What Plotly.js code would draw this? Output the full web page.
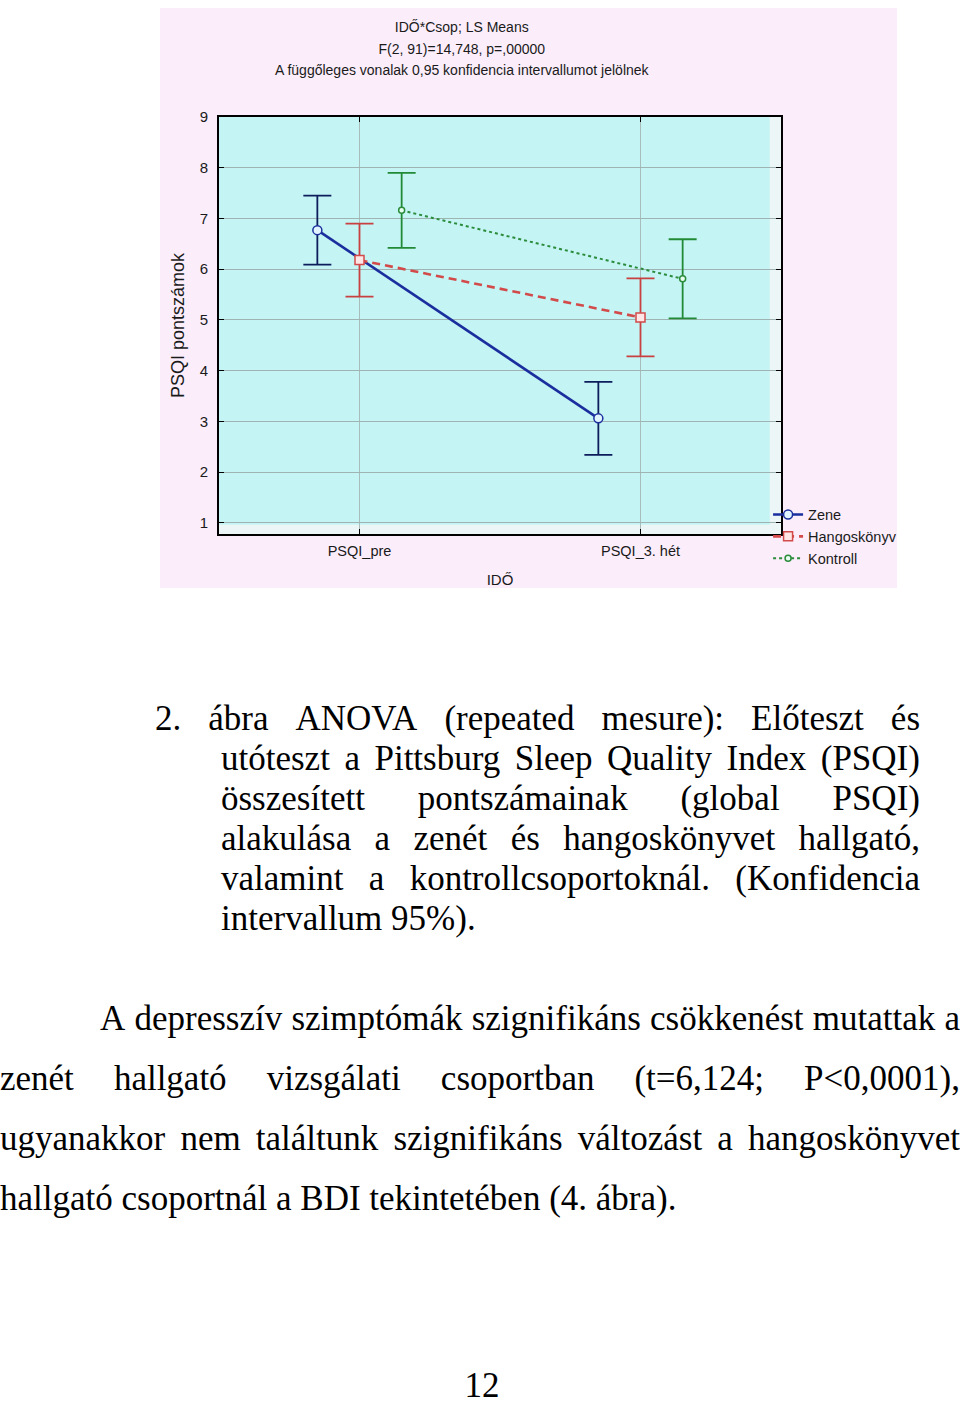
<!DOCTYPE html>
<html>
<head>
<meta charset="utf-8">
<script src="https://cdn.plot.ly/plotly-3.0.1.min.js"></script>
<style>
  html, body { margin: 0; padding: 0; background: #ffffff; }
  body { width: 960px; height: 1407px; position: relative; overflow: hidden; }
  #chart { position: absolute; left: 160px; top: 8px; width: 737px; height: 580px; }
  .tl { position: absolute; font-family: "Liberation Serif", "Times New Roman", serif; font-size: 35px; line-height: 40px; color: #000; white-space: nowrap; }
  .just { display: flex; justify-content: space-between; }
</style>
</head>
<body>
<div id="chart"></div>
<div id="text"></div>
<script>
// ---- data ----
const categories = ['PSQI_pre', 'PSQI_3. hét'];
const groupNames = ['Zene', 'Hangoskönyv', 'Kontroll'];
const zeneMeans = [6.77, 3.06];
const zeneCI = [0.68, 0.72];
const hangMeans = [6.18, 5.05];
const hangCI = [0.72, 0.77];
const kontMeans = [7.16, 5.81];
const kontCI = [0.74, 0.78];
const yTicks = [1, 2, 3, 4, 5, 6, 7, 8, 9];

const titleLines = [
  'IDŐ*Csop; LS Means',
  'F(2, 91)=14,748, p=,00000',
  'A függőleges vonalak 0,95 konfidencia intervallumot jelölnek'
];

// ---- styling ----
const sans = '"Liberation Sans", Arial, sans-serif';
const styles = [
  {offset: -0.15, line: '#1a2e9e', err: '#0d1d5c', dash: 'solid', width: 2.6, symbol: 'circle', msize: 9, mfill: '#dff4ff'},
  {offset: 0.0, line: '#d24a4a', err: '#c84040', dash: '8px,5px', width: 2.6, symbol: 'square', msize: 9, mfill: '#ffe6e6'},
  {offset: 0.15, line: '#2b8c3c', err: '#228a36', dash: 'dot', width: 2, symbol: 'circle', msize: 6, mfill: '#e6fff0'}
];
const seriesMeans = [zeneMeans, hangMeans, kontMeans];
const seriesCI = [zeneCI, hangCI, kontCI];

const traces = groupNames.map((name, g) => {
  const s = styles[g];
  return {
    type: 'scatter',
    mode: 'lines+markers',
    name: name,
    x: categories.map((c, i) => i + s.offset),
    y: seriesMeans[g],
    line: {color: s.line, width: s.width, dash: s.dash},
    marker: {symbol: s.symbol, size: s.msize, color: s.mfill, line: {color: s.line, width: 1.5}},
    error_y: {type: 'data', array: seriesCI[g], visible: true, color: s.err, thickness: 1.8, width: 14},
    hoverinfo: 'x+y'
  };
});

const layout = {
  width: 737, height: 580,
  paper_bgcolor: '#fbeefa',
  plot_bgcolor: '#edf6f6',
  margin: {l: 59, r: 116, t: 109, b: 54, autoexpand: false},
  font: {family: sans, size: 14, color: '#1a1a1a'},
  title: {
    text: titleLines.map(t => '<span style="font-size:14px">' + t + '</span>').join('<br>'),
    font: {family: sans, size: 16.5, color: '#1a1a1a'},
    x: 0.432, xanchor: 'center', xref: 'paper',
    y: 0.958, yanchor: 'top', yref: 'container'
  },
  xaxis: {
    range: [-0.5, 1.5],
    tickvals: categories.map((c, i) => i),
    ticktext: categories,
    showgrid: true, gridcolor: '#a9bcbc', gridwidth: 1,
    zeroline: false,
    showline: true, linecolor: '#000', linewidth: 2, mirror: 'ticks',
    ticks: 'inside', ticklen: 5, tickcolor: '#000',
    ticklabelstandoff: 3,
    tickfont: {family: sans, size: 14.5, color: '#1a1a1a'},
    title: {text: 'IDŐ', font: {family: sans, size: 15, color: '#1a1a1a'}, standoff: 18}
  },
  yaxis: {
    range: [0.78, 9.0],
    tickvals: yTicks,
    showgrid: true, gridcolor: '#9fb3b3', gridwidth: 1,
    zeroline: false,
    showline: true, linecolor: '#000', linewidth: 2, mirror: 'ticks',
    ticks: 'inside', ticklen: 5, tickcolor: '#000',
    ticklabelstandoff: 6,
    tickfont: {family: sans, size: 15, color: '#1a1a1a'},
    title: {text: 'PSQI pontszámok', font: {family: sans, size: 18, color: '#1a1a1a'}, standoff: 10}
  },
  shapes: [{
    type: 'rect', xref: 'paper', yref: 'paper', x0: 0, x1: 0.98, y0: 0.022, y1: 1,
    fillcolor: '#c4f4f4', line: {width: 0}, layer: 'below'
  }],
  legend: {
    x: 0.977, xanchor: 'left', y: 0.085, yanchor: 'top',
    bgcolor: 'rgba(0,0,0,0)', borderwidth: 0,
    font: {family: sans, size: 14.5, color: '#1a1a1a'},
    tracegroupgap: 0, itemwidth: 30
  },
  showlegend: true
};

Plotly.newPlot('chart', traces, layout, {displayModeBar: false, staticPlot: true});

// ---- page text ----
const captionLines = [
  '2. ábra ANOVA (repeated mesure): Előteszt és',
  'utóteszt a Pittsburg Sleep Quality Index (PSQI)',
  'összesített pontszámainak (global PSQI)',
  'alakulása a zenét és hangoskönyvet hallgató,',
  'valamint a kontrollcsoportoknál. (Konfidencia',
  'intervallum 95%).'
];
const paraLines = [
  'A depresszív szimptómák szignifikáns csökkenést mutattak a',
  'zenét hallgató vizsgálati csoportban (t=6,124; P<0,0001),',
  'ugyanakkor nem találtunk szignifikáns változást a hangoskönyvet',
  'hallgató csoportnál a BDI tekintetében (4. ábra).'
];
const pageNumber = '12';

const textDiv = document.getElementById('text');
function addLine(str, left, right, top, justify) {
  const d = document.createElement('div');
  d.className = 'tl' + (justify ? ' just' : '');
  d.style.left = left + 'px';
  d.style.top = top + 'px';
  if (justify) {
    d.style.width = (right - left) + 'px';
    str.split(' ').forEach(w => { const s = document.createElement('span'); s.textContent = w; d.appendChild(s); });
  } else {
    d.textContent = str;
  }
  textDiv.appendChild(d);
}
captionLines.forEach((l, i) => {
  const left = i === 0 ? 155 : 221;
  addLine(l, left, 920, 699 + i * 40, i < captionLines.length - 1);
});
paraLines.forEach((l, i) => {
  const left = i === 0 ? 100 : 0;
  addLine(l, left, 960, 999 + i * 60, i < paraLines.length - 1);
});
const pn = document.createElement('div');
pn.className = 'tl';
pn.style.left = '0px'; pn.style.width = '964px'; pn.style.textAlign = 'center';
pn.style.lineHeight = '30px';
pn.style.top = '1371px';
pn.textContent = pageNumber;
textDiv.appendChild(pn);
</script>
</body>
</html>
